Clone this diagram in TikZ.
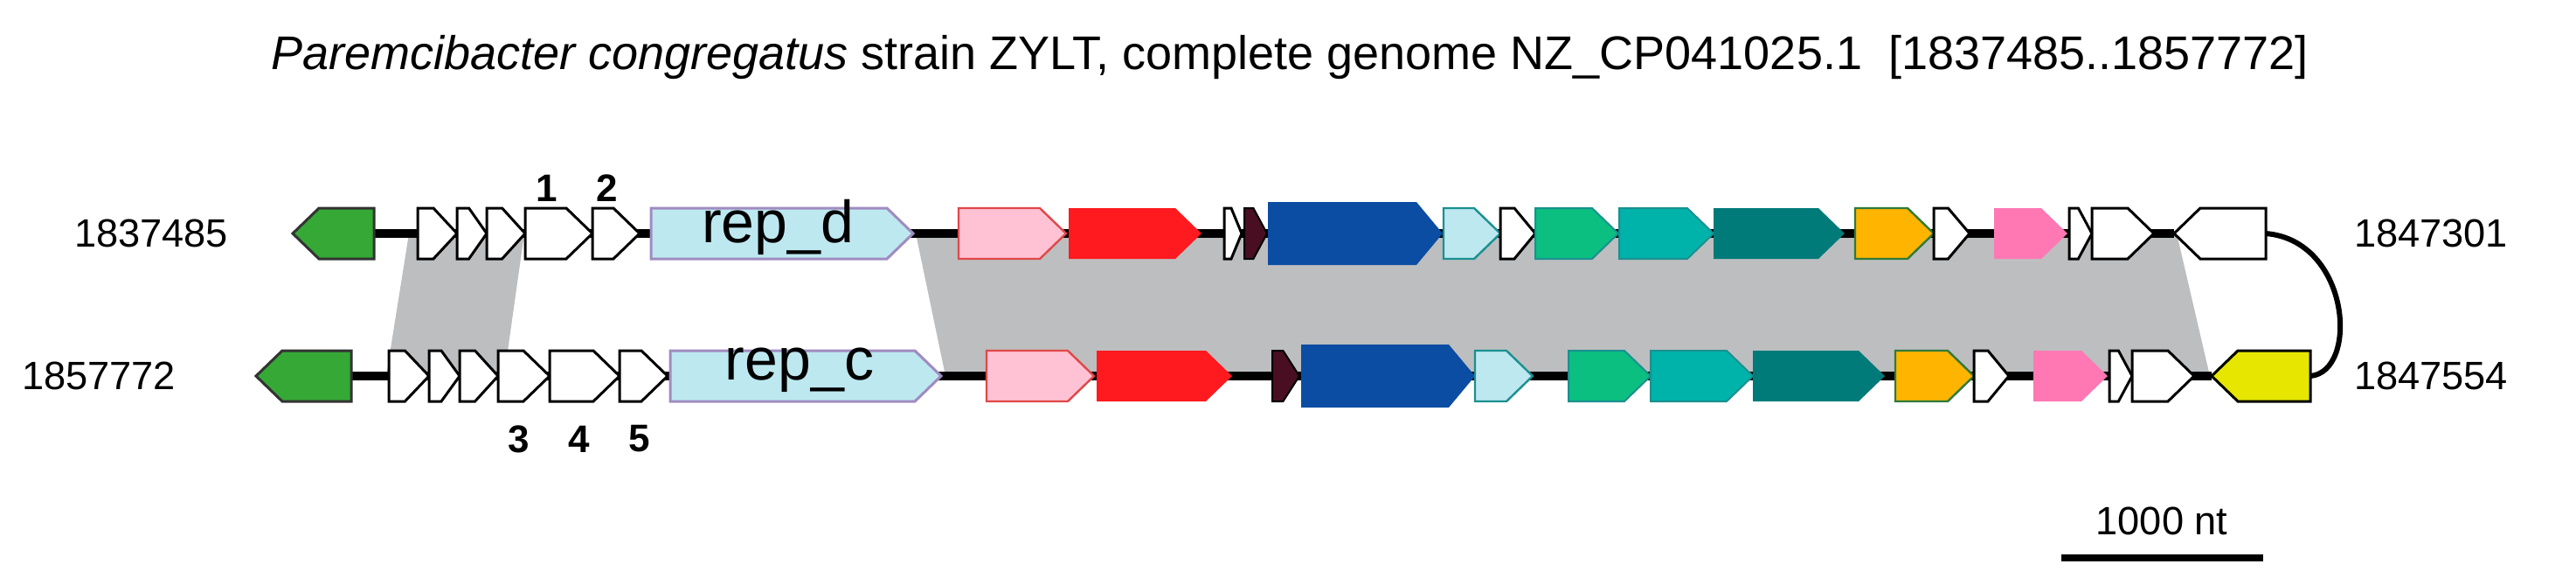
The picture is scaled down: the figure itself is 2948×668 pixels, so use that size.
\documentclass[tikz,border=0pt]{standalone}
\usepackage{fontspec}
\setmainfont{Liberation Sans}
\definecolor{cgreen}{HTML}{35A835}
\definecolor{clb}{HTML}{BDE8F0}
\definecolor{cpur}{HTML}{A08CC0}
\definecolor{cpink}{HTML}{FFC2D4}
\definecolor{cpinkd}{HTML}{E04848}
\definecolor{cred}{HTML}{FF1A1F}
\definecolor{cmaroon}{HTML}{4A0E22}
\definecolor{cblue}{HTML}{0A4DA3}
\definecolor{cteald}{HTML}{1A9090}
\definecolor{cgreen2}{HTML}{0BBF80}
\definecolor{cteal}{HTML}{00B3AA}
\definecolor{cdteal}{HTML}{007B79}
\definecolor{corange}{HTML}{FFB400}
\definecolor{cogreen}{HTML}{2F7A3A}
\definecolor{cpink2}{HTML}{FF78B4}
\definecolor{cyellow}{HTML}{E6E600}
\definecolor{cband}{HTML}{BDBEC0}
\newcommand\yc{0}
\newcommand\hh{29}
% right-pointing gene: x1, x2, style
\newcommand\gR[3]{%
  \pgfmathsetmacro\hd{min(30,0.6*(#2-#1))}%
  \path[#3] (#1,\yc-\hh) -- ({#2-\hd},\yc-\hh) -- (#2,\yc) -- ({#2-\hd},\yc+\hh) -- (#1,\yc+\hh) -- cycle;}
\newcommand\gL[3]{%
  \pgfmathsetmacro\hd{min(30,0.6*(#2-#1))}%
  \path[#3] (#2,\yc-\hh) -- ({#1+\hd},\yc-\hh) -- (#1,\yc) -- ({#1+\hd},\yc+\hh) -- (#2,\yc+\hh) -- cycle;}
\tikzset{
  gw/.style={fill=white,draw=black,line width=0.75pt,line join=miter},
  ggreen/.style={fill=cgreen,draw=black!80,line width=0.75pt},
  grep/.style={fill=clb,draw=cpur,line width=0.75pt},
  gpink/.style={fill=cpink,draw=cpinkd,line width=0.6pt},
  gred/.style={fill=cred},
  gmar/.style={fill=cmaroon,draw=black,line width=0.5pt},
  gblue/.style={fill=cblue},
  glb/.style={fill=clb,draw=cteald,line width=0.6pt},
  gg2/.style={fill=cgreen2,draw=cteald,line width=0.5pt},
  gteal/.style={fill=cteal,draw=cteald,line width=0.5pt},
  gdteal/.style={fill=cdteal},
  gor/.style={fill=corange,draw=cogreen,line width=0.6pt},
  gpk2/.style={fill=cpink2},
  gyel/.style={fill=cyellow,draw=black,line width=0.75pt},
  backbone/.style={line width=2.5pt,black},
  lbl/.style={font=\fontsize{11.3}{13}\selectfont},
  num/.style={font=\bfseries\fontsize{11}{13}\selectfont},
  rep/.style={font=\fontsize{17}{19}\selectfont}
}
\begin{document}
\begin{tikzpicture}[x=0.25pt,y=-0.25pt]
\useasboundingbox (0,0) rectangle (2948,668);
% bands
\fill[cband] (468,267) -- (600,267) -- (577,430) -- (442,430) -- cycle;
\fill[cband] (1048,267) -- (2491,267) -- (2529,430) -- (1082,430) -- cycle;
% arc
\coordinate (a1) at (2593,267);
\coordinate (a2) at (2644,430);
\draw[line width=1.5pt] (a1) .. controls (2690,275) and (2700,425) .. (a2);
% top row
\renewcommand\yc{267}
\draw[backbone] (428,267) -- (2488,267);
\gL{335}{428}{ggreen}
\gR{478}{523}{gw}\gR{523}{557}{gw}\gR{557}{601}{gw}\gR{601}{678}{gw}\gR{678}{732}{gw}
\gR{745}{1045}{grep}
\gR{1097}{1220}{gpink}\gR{1223}{1375}{gred}
\gR{1401}{1421}{gw}\gR{1424}{1450}{gmar}
{\renewcommand\hh{36}\gR{1451}{1651}{gblue}}
\gR{1652}{1717}{glb}\gR{1717}{1757}{gw}\gR{1757}{1852}{gg2}\gR{1853}{1961}{gteal}
\gR{1961}{2111}{gdteal}\gR{2123}{2213}{gor}\gR{2213}{2254}{gw}
\gR{2282}{2366}{gpk2}\gR{2368}{2394}{gw}\gR{2394}{2465}{gw}
\gL{2488}{2593}{gw}
% bottom row
\renewcommand\yc{430}
\draw[backbone] (402,430) -- (2531,430);
\gL{293}{402}{ggreen}
\gR{445}{491}{gw}\gR{491}{526}{gw}\gR{526}{570}{gw}\gR{570}{629}{gw}\gR{629}{709}{gw}\gR{709}{764}{gw}
\gR{767}{1077}{grep}
\gR{1129}{1252}{gpink}\gR{1255}{1410}{gred}
\gR{1456}{1487}{gmar}
{\renewcommand\hh{36}\gR{1489}{1688}{gblue}}
\gR{1688}{1754}{glb}\gR{1795}{1889}{gg2}\gR{1889}{2006}{gteal}
\gR{2006}{2157}{gdteal}\gR{2169}{2259}{gor}\gR{2259}{2299}{gw}
\gR{2327}{2412}{gpk2}\gR{2414}{2440}{gw}\gR{2440}{2511}{gw}
\gL{2531}{2644}{gyel}
% texts
\node[font=\fontsize{13.5}{16}\selectfont] (title) at (1476,66) {\textit{Paremcibacter congregatus} strain ZYLT, complete genome NZ\_CP041025.1\ \ [1837485..1857772]};
\node[lbl] (l1) at (173,267) {1837485};
\node[lbl] (l2) at (2782,267) {1847301};
\node[lbl] (l3) at (113,430) {1857772};
\node[lbl] (l4) at (2782,430) {1847554};
\node[rep] (rd) at (890,260) {rep\_d};
\node[rep] (rc) at (915,423) {rep\_c};
\node[num] (n1) at (626,215) {1};
\node[num] (n2) at (695,215) {2};
\node[num] (n3) at (594,502) {3};
\node[num] (n4) at (663,502) {4};
\node[num] (n5) at (732,502) {5};
\coordinate (s1) at (2359,638);
\coordinate (s2) at (2590,638);
\draw[line width=2pt] (s1) -- (s2);
\node[lbl] (sc) at (2474,596) {1000 nt};
\end{tikzpicture}
\end{document}
